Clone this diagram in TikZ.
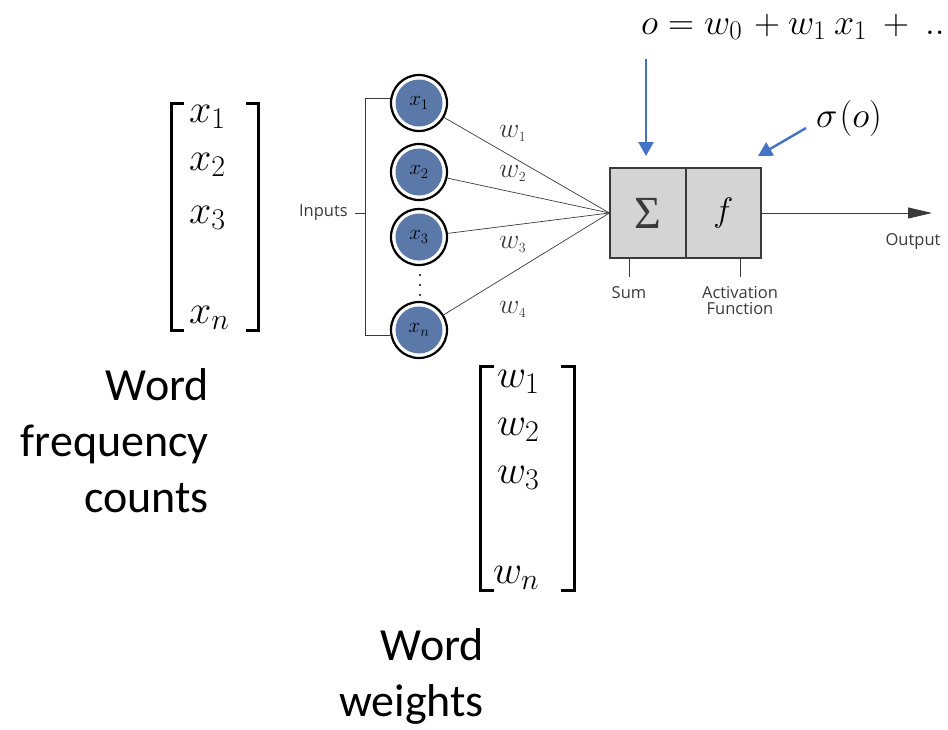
\RequirePackage{fix-cm}
\documentclass[tikz,border=0pt]{standalone}
\usepackage{fontspec}
\setmainfont{Carlito}
\newfontfamily\labfont{Open Sans}
\newfontfamily\sumfont{Liberation Serif}
\DeclareMathSizes{36}{36}{27}{20}
\DeclareMathSizes{40}{40}{30}{22}
\usetikzlibrary{arrows.meta}
\definecolor{nodeblue}{HTML}{5A78A8}
\definecolor{arrowblue}{HTML}{4472C4}
\definecolor{boxgray}{HTML}{D4D4D4}
\definecolor{linegray}{HTML}{3A3A3A}
\begin{document}
\begin{tikzpicture}[x=1pt,y=-1pt,
  inp/.style={circle,draw=black,line width=2.2pt,fill=white,minimum size=56pt,inner sep=0pt},
  inpin/.style={circle,fill=nodeblue,minimum size=47pt,inner sep=0pt},
  wire/.style={draw=linegray,line width=0.7pt},
  lab/.style={font=\labfont\fontsize{16.5}{18}\selectfont,text=linegray,inner sep=0pt},
  wlab/.style={font=\fontsize{28}{30}\selectfont,text=linegray,anchor=base west,inner sep=0pt},
  big/.style={font=\fontsize{40}{44}\selectfont,anchor=base west,inner sep=0pt},
  brk/.style={line width=3pt,line cap=rect},
  blue/.style={draw=arrowblue,line width=2.4pt,-{Triangle[width=15pt,length=14pt]}},
  words/.style={font=\fontsize{46}{56}\selectfont,inner sep=0pt,align=right},
  formula/.style={font=\fontsize{36}{40}\selectfont,anchor=base west,inner sep=0pt}
]
\useasboundingbox (0,0) rectangle (948,729);

% input neurons
\foreach \n/\y/\s in {1/103/1,2/172/2,3/237/3,4/330/n}{
  \node[inp] (c\n) at (419,\y) {};
  \node[inpin] at (c\n) {\fontsize{21}{22}\selectfont$x_{\s}$};
}
% dots
\foreach \y in {275,285,295} \fill[linegray] (420,\y) circle (1.3pt);

% inputs bracket
\coordinate (bt) at (365,98);
\coordinate (bb) at (365,335);
\draw[wire] (c1.west |- bt) -- (bt) -- (bb) -- (c4.west |- bb);
\node[lab,anchor=east] (inputs) at (348,213) {Inputs};
\draw[wire] (inputs.east) ++(7,0) coordinate (id) -- (365,213);

% summation / activation box
\node[draw=linegray,fill=boxgray,line width=1.2pt,minimum width=76pt,minimum height=90pt,inner sep=0pt] (sum) at (648,213) {\sumfont\fontsize{46}{48}\selectfont\textcolor{linegray}{Σ}};
\node[draw=linegray,fill=boxgray,line width=1.2pt,minimum width=75pt,minimum height=90pt,inner sep=0pt] (act) at (723.5,213) {\fontsize{34}{36}\selectfont$f$};

% connections
\coordinate (conv) at (sum.west);
\foreach \n in {1,2,3,4} \draw[wire] (c\n) -- (conv);
\node[wlab] (w1) at (499,137) {$w_{\scriptscriptstyle 1}$};
\node[wlab] (w2) at (499,177) {$w_{\scriptscriptstyle 2}$};
\node[wlab] (w3) at (499,248) {$w_{\scriptscriptstyle 3}$};
\node[wlab] (w4) at (499,313) {$w_{\scriptscriptstyle 4}$};

% output
\coordinate (outend) at (932,213);
\draw[draw=linegray,line width=0.9pt,-{Triangle[width=11pt,length=24pt]}] (act.east) -- (outend);
\node[lab] (output) at (913,241) {Output};

% sum / activation labels
\draw[wire] (629,258) coordinate (st) -- (629,277) coordinate (sb);
\node[lab] (sumlab) at (629,293) {Sum};
\draw[wire] (740,258) coordinate (at) -- (740,277) coordinate (ab);
\node[lab,align=center,font=\labfont\fontsize{16.5}{16}\selectfont] (actlab) at (740,301) {Activation\\Function};

% top formulas
\node[formula] (eq) at (641,34) {$o = w_0\mkern2mu + w_1\mkern4mu x_1\mkern4mu + \ ..$};
\node[formula] (sig) at (816,127) {$\sigma\mkern1mu(o)$};
\coordinate (a1s) at (646,59);
\coordinate (a1e) at (646,156);
\draw[blue] (a1s) -- (a1e);
\coordinate (a2s) at (806,128);
\coordinate (a2e) at (758,156);
\draw[blue] (a2s) -- (a2e);

% x vector
\draw[brk] (182,103) -- (171,103) -- (171,330) -- (182,330);
\draw[brk] (247,103) -- (258,103) -- (258,330) -- (247,330);
\node[big] (vx1) at (189,122) {$x_1$};
\node[big] (vx2) at (189,170) {$x_2$};
\node[big] (vx3) at (189,223) {$x_3$};
\node[big] (vxn) at (189,323) {$x_n$};

% w vector
\draw[brk] (492,366) -- (480,366) -- (480,590) -- (492,590);
\draw[brk] (562,366) -- (574,366) -- (574,590) -- (562,590);
\node[big] (vw1) at (497,387) {$w_1$};
\node[big] (vw2) at (497,435) {$w_2$};
\node[big] (vw3) at (497,483) {$w_3$};
\node[big] (vwn) at (493,583) {$w_n$};

% captions
\node[words,anchor=north east] (cap1) at (209,368) {Word\\frequency\\counts};
\node[words,anchor=north east] (cap2) at (484,628) {Word\\weights};
\end{tikzpicture}
\end{document}
